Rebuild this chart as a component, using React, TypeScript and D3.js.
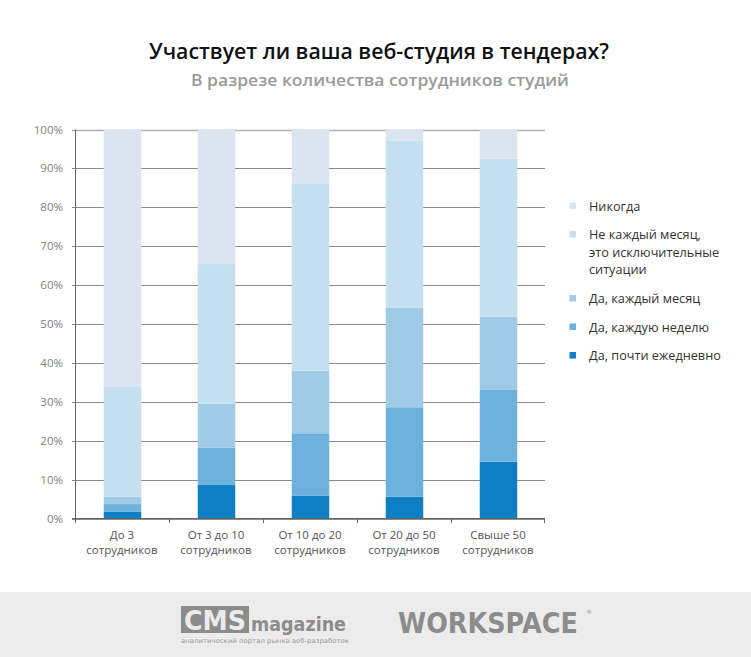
import React from "react";
import * as d3 from "d3";

const categories = [
  ["До 3", "сотрудников"],
  ["От 3 до 10", "сотрудников"],
  ["От 10 до 20", "сотрудников"],
  ["От 20 до 50", "сотрудников"],
  ["Свыше 50", "сотрудников"],
];

const seriesNames = [
  "Да, почти ежедневно",
  "Да, каждую неделю",
  "Да, каждый месяц",
  "Не каждый месяц, это исключительные ситуации",
  "Никогда",
];

const daily = [1.7, 8.6, 5.9, 5.6, 14.6];
const weekly = [2.0, 9.6, 16.0, 23.0, 18.6];
const monthly = [1.9, 11.3, 16.1, 25.6, 18.7];
const notMonthly = [28.4, 35.9, 48.0, 43.0, 40.6];
const never = [66.0, 34.6, 14.0, 2.8, 7.5];

const yTicks = [0, 10, 20, 30, 40, 50, 60, 70, 80, 90, 100];

const legendLines = [
  ["Никогда"],
  ["Не каждый месяц,", "это исключительные", "ситуации"],
  ["Да, каждый месяц"],
  ["Да, каждую неделю"],
  ["Да, почти ежедневно"],
];

const colors = ["#0e7fc4", "#6db2dc", "#9fcbe6", "#c3dff0", "#dbe5f1"];

export default function App() {
  const seriesData = [daily, weekly, monthly, notMonthly, never];
  const rows = categories.map((c, i) => {
    const r: any = { key: i };
    seriesData.forEach((s, k) => (r["s" + k] = s[i]));
    return r;
  });
  const keys = seriesData.map((_, k) => "s" + k);
  const stacked = d3.stack().keys(keys)(rows);

  const x = d3.scaleBand<number>().domain(categories.map((_, i) => i)).range([75, 545]).paddingInner(0).paddingOuter(0);
  const y = d3.scaleLinear().domain([0, 100]).range([518.5, 129.5]);
  const barW = 37.5;
  const font = "'Open Sans', sans-serif";

  const legendOrder = [4, 3, 2, 1, 0];
  const legendY = [206, 234.5, 298.5, 327, 355.5];

  return (
    <svg width={751} height={657} style={{ position: "absolute", left: 0, top: 0, background: "#fff" }}>
      <rect x={0} y={0} width={751} height={657} fill="#fff" />
      <text x={379} y={58.5} textAnchor="middle" fontFamily={font} fontWeight={600} fontSize={22} fill="#111" textLength={460} lengthAdjust="spacingAndGlyphs">
        Участвует ли ваша веб-студия в тендерах?
      </text>
      <text x={380} y={85.5} textAnchor="middle" fontFamily={font} fontWeight={600} fontSize={16} fill="#9a9a9a" textLength={378} lengthAdjust="spacingAndGlyphs">
        В разрезе количества сотрудников студий
      </text>

      {yTicks.map((t) => (
        <g key={t}>
          <line x1={72} x2={545} y1={Math.round(y(t)) + 0.5} y2={Math.round(y(t)) + 0.5} stroke={t === 100 ? "#b0b0b0" : "#8a8a8a"} strokeWidth={t === 100 ? 1.5 : 1} />
          <text x={63} y={y(t) + 4} textAnchor="end" fontFamily={font} fontSize={11.5} fill="#808080">
            {t}%
          </text>
        </g>
      ))}

      {stacked.map((layer, k) => (
        <g key={k}>
          {layer.map((d, i) => (
            <rect
              key={i}
              x={(x(i) as number) + x.bandwidth() / 2 - barW / 2 + 0.5}
              y={y(d[1])}
              width={barW}
              height={y(d[0]) - y(d[1])}
              fill={colors[k]}
            />
          ))}
        </g>
      ))}

      <line x1={75.5} x2={75.5} y1={129.5} y2={523} stroke="#666" strokeWidth={1} />
      <line x1={72} x2={545} y1={518.5} y2={518.5} stroke="#666" strokeWidth={1} />
      {categories.map((_, i) => (
        <line key={i} x1={(x(i) as number) + 0.5} x2={(x(i) as number) + 0.5} y1={518.5} y2={523} stroke="#666" />
      ))}
      <line x1={544.5} x2={544.5} y1={518.5} y2={523} stroke="#666" />

      {categories.map((c, i) => (
        <text key={i} textAnchor="middle" fontFamily={font} fontSize={11.5} fill="#555">
          {c.map((l, j) => (
            <tspan key={j} x={(x(i) as number) + x.bandwidth() / 2} y={539 + j * 14.5}>
              {l}
            </tspan>
          ))}
        </text>
      ))}

      {legendOrder.map((k, idx) => (
        <g key={k}>
          <rect x={569.5} y={legendY[idx] - 3.5} width={6.5} height={6.5} fill={colors[k]} />
          <text fontFamily={font} fontSize={12.7} fill="#333">
            {legendLines[idx].map((l, j) => (
              <tspan key={j} x={589} y={legendY[idx] + 4.5 + j * 17.5}>
                {l}
              </tspan>
            ))}
          </text>
        </g>
      ))}

      <rect x={0} y={592} width={751} height={65} fill="#ececec" />
      <rect x={181} y={606} width={68} height={27} fill="#8c8c8c" />
      <text x={215} y={630} textAnchor="middle" fontFamily="'DejaVu Sans', sans-serif" fontWeight={700} fontSize={26} fill="#ececec" textLength={62} lengthAdjust="spacingAndGlyphs">
        CMS
      </text>
      <text x={251} y={631} fontFamily="'DejaVu Sans', sans-serif" fontWeight={700} fontSize={19} fill="#8c8c8c" textLength={95} lengthAdjust="spacingAndGlyphs">
        magazine
      </text>
      <text x={181} y={643} fontFamily="'DejaVu Sans', sans-serif" fontSize={6.5} fill="#999" textLength={168} lengthAdjust="spacingAndGlyphs">
        аналитический портал рынка веб-разработок
      </text>
      <g transform="translate(398,633) scale(0.88,1)">
        <text x={0} y={0} fontFamily="'DejaVu Sans', sans-serif" fontWeight={700} fontSize={29} fill="#8c8c8c">
          WORKSPACE
        </text>
      </g>
      <text x={586} y={614} fontFamily="'DejaVu Sans', sans-serif" fontSize={6} fill="#999">
        ®
      </text>
    </svg>
  );
}
